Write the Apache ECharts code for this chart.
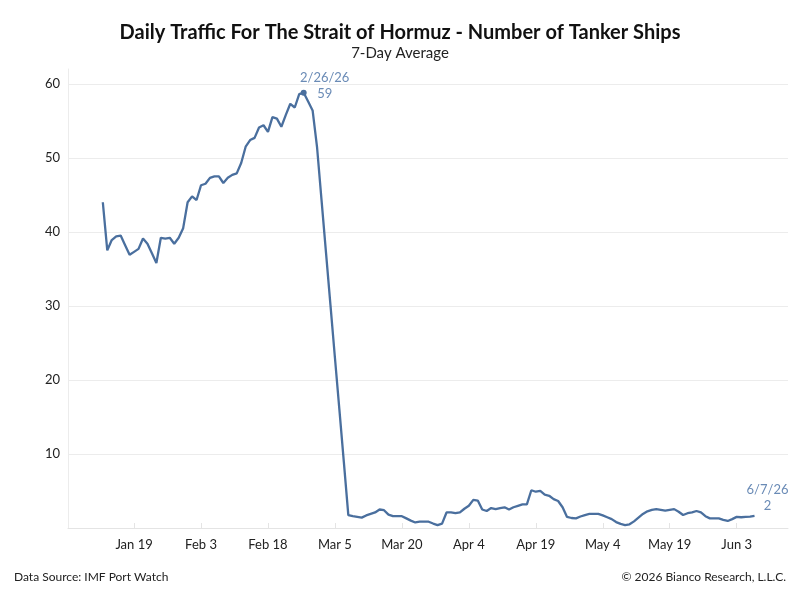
<!DOCTYPE html>
<html>
<head>
<meta charset="utf-8">
<title>Strait of Hormuz Tanker Traffic</title>
<script src="https://cdn.jsdelivr.net/npm/echarts@6/dist/echarts.min.js"></script>
<style>
  html, body { margin: 0; padding: 0; background: #fff; }
  #chart { width: 800px; height: 600px; }
</style>
</head>
<body>
<div id="chart"></div>
<script>
// day 0 = Jan 12, 2026; one value per day through Jun 7 (day 146)
var startDate = new Date(2026, 0, 12);
var tanker7d = [
  44.0, 37.5, 38.9, 39.4, 39.5, 38.2, 36.9, 37.3, 37.7, 39.1,
  38.4, 37.1, 35.8, 39.2, 39.1, 39.2, 38.4, 39.2, 40.5, 44.0,
  44.8, 44.3, 46.3, 46.5, 47.3, 47.5, 47.5, 46.6, 47.3, 47.7,
  47.9, 49.3, 51.5, 52.4, 52.7, 54.1, 54.4, 53.5, 55.5, 55.3,
  54.2, 55.8, 57.3, 56.8, 58.6, 58.8, 57.6, 56.4, 51.4, 44.3,
  37.2, 30.1, 23.0, 16.0, 8.9, 1.75, 1.6, 1.5, 1.4, 1.7,
  1.9, 2.1, 2.5, 2.4, 1.8, 1.6, 1.6, 1.6, 1.3, 1.0,
  0.75, 0.85, 0.85, 0.85, 0.6, 0.4, 0.6, 2.1, 2.1, 2.0,
  2.1, 2.6, 3.0, 3.8, 3.7, 2.5, 2.3, 2.7, 2.55, 2.7,
  2.8, 2.5, 2.8, 3.0, 3.2, 3.2, 5.1, 4.9, 5.0, 4.5,
  4.35, 3.9, 3.65, 2.8, 1.5, 1.35, 1.3, 1.55, 1.75, 1.9,
  1.9, 1.9, 1.7, 1.45, 1.2, 0.8, 0.55, 0.4, 0.5, 0.9,
  1.4, 1.9, 2.25, 2.45, 2.55, 2.45, 2.35, 2.45, 2.55, 2.2,
  1.75, 2.0, 2.1, 2.3, 2.1, 1.6, 1.3, 1.3, 1.3, 1.1,
  0.95, 1.2, 1.5, 1.45, 1.5, 1.55, 1.65
];
var tickDays = [7, 22, 37, 52, 67, 82, 97, 112, 127, 142];
var tickLabels = ['Jan 19', 'Feb 3', 'Feb 18', 'Mar 5', 'Mar 20', 'Apr 4', 'Apr 19', 'May 4', 'May 19', 'Jun 3'];
var yTicks = [10, 20, 30, 40, 50, 60];
var yGrid = [0, 10, 20, 30, 40, 50, 60];

var points = [];
for (var i = 0; i < tanker7d.length; i++) {
    points.push([i, tanker7d[i]]);
}

// peak and last value for the callouts
var peakIdx = 0;
for (var i = 1; i < tanker7d.length; i++) {
    if (tanker7d[i] > tanker7d[peakIdx]) peakIdx = i;
}
var lastIdx = tanker7d.length - 1;

function shortDate(dayIdx) {
    var d = new Date(startDate.getTime());
    d.setDate(d.getDate() + dayIdx);
    return (d.getMonth() + 1) + '/' + d.getDate() + '/' + String(d.getFullYear()).slice(2);
}

var lineColor = '#4a6f9e';
var noteColor = '#6a8bb6';
var font = 'Lato, "Open Sans", sans-serif';

var chart = echarts.init(document.getElementById('chart'));

var option = {
    backgroundColor: '#fff',
    animation: false,
    textStyle: { fontFamily: font },
    title: [
        {
            text: 'Daily Traffic For The Strait of Hormuz - Number of Tanker Ships',
            left: 'center',
            top: 18,
            textStyle: { fontFamily: font, fontSize: 20, fontWeight: 'bold', color: '#111' }
        },
        {
            text: '7-Day Average',
            left: 'center',
            top: 41,
            textStyle: { fontFamily: font, fontSize: 15, fontWeight: 'normal', color: '#222' }
        },
        {
            text: 'Data Source: IMF Port Watch',
            left: 9,
            top: 566,
            textStyle: { fontFamily: font, fontSize: 12, fontWeight: 'normal', color: '#222' }
        },
        {
            text: '\u00a9 2026 Bianco Research, L.L.C.',
            right: 9,
            top: 566,
            textStyle: { fontFamily: font, fontSize: 12, fontWeight: 'normal', color: '#222' }
        }
    ],
    grid: { left: 68, right: 12, top: 69, bottom: 72 },
    xAxis: {
        type: 'value',
        min: -7.8,
        max: 153.5,
        axisLine: { show: true, lineStyle: { color: '#e4e4e4' } },
        axisTick: { show: true, inside: true, length: 5, customValues: tickDays, lineStyle: { color: '#e4e4e4' } },
        splitLine: { show: false },
        axisLabel: {
            customValues: tickDays,
            margin: 10,
            fontFamily: font,
            fontSize: 13,
            color: '#222',
            formatter: function (v) {
                var k = tickDays.indexOf(Math.round(v));
                return k >= 0 ? tickLabels[k] : '';
            }
        }
    },
    yAxis: {
        type: 'value',
        min: 0,
        max: 62,
        axisLine: { show: true, onZero: false, lineStyle: { color: '#ececec' } },
        axisTick: { show: false, customValues: yGrid },
        splitLine: { show: true, lineStyle: { color: '#ececec' } },
        axisLabel: {
            customValues: yTicks,
            margin: 8,
            fontFamily: font,
            fontSize: 13,
            color: '#222'
        }
    },
    series: [
        {
            name: 'Tankers',
            type: 'line',
            data: points,
            showSymbol: false,
            symbol: 'none',
            lineStyle: { color: lineColor, width: 2.3 },
            itemStyle: { color: lineColor },
            markPoint: {
                silent: true,
                data: [
                    {
                        coord: [peakIdx, tanker7d[peakIdx]],
                        symbol: 'circle',
                        symbolSize: 6,
                        itemStyle: { color: lineColor },
                        label: {
                            show: true,
                            position: 'inside',
                            offset: [21, -7],
                            align: 'center',
                            lineHeight: 16,
                            fontFamily: font,
                            fontSize: 13,
                            color: noteColor,
                            formatter: shortDate(peakIdx) + '\n' + Math.round(tanker7d[peakIdx])
                        }
                    },
                    {
                        coord: [lastIdx, tanker7d[lastIdx]],
                        symbol: 'circle',
                        symbolSize: 0,
                        itemStyle: { color: 'rgba(0,0,0,0)' },
                        label: {
                            show: true,
                            position: 'inside',
                            offset: [13, -18],
                            align: 'center',
                            lineHeight: 16,
                            fontFamily: font,
                            fontSize: 13,
                            color: noteColor,
                            formatter: shortDate(lastIdx) + '\n' + Math.round(tanker7d[lastIdx])
                        }
                    }
                ]
            }
        }
    ]
};

chart.setOption(option);
</script>
</body>
</html>
